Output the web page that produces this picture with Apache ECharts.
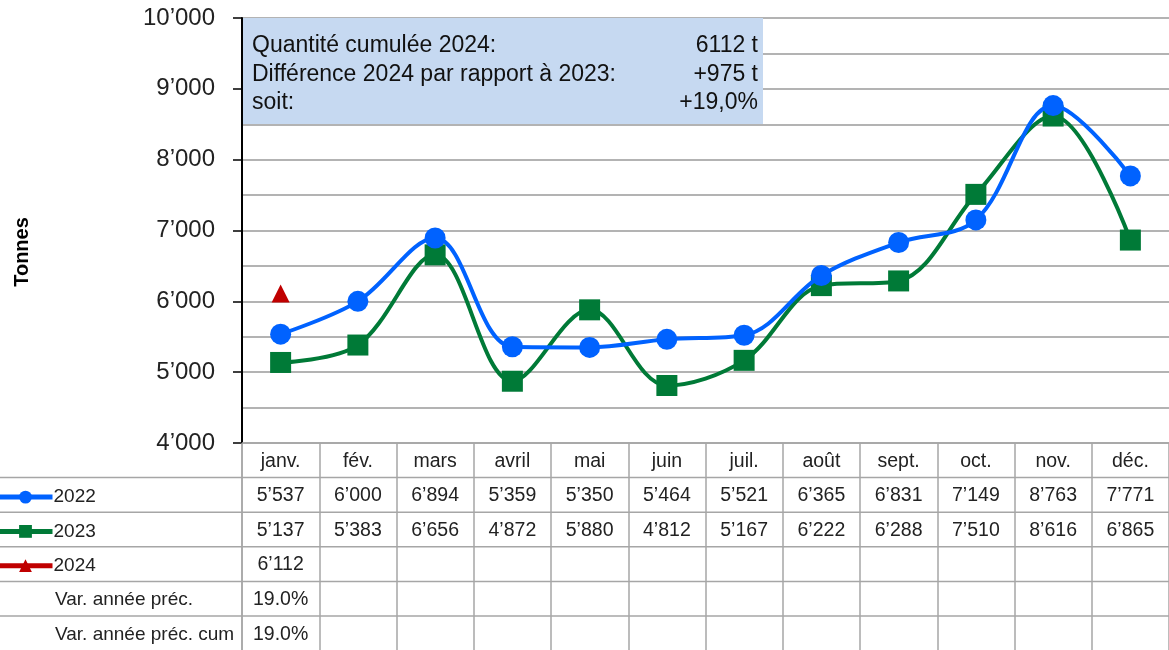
<!DOCTYPE html>
<html>
<head>
    <meta charset="UTF-8">
    <title>Tonnes par mois</title>
    <script src="https://cdn.jsdelivr.net/npm/echarts@6/dist/echarts.min.js"></script>
    <style>
        html, body { margin: 0; padding: 0; background: #fff; }
        #main { width: 1169px; height: 650px; }
    </style>
</head>
<body>
<div id="main"></div>
<script type="text/javascript">
    // donnees
    var mois = ['janv.', 'fév.', 'mars', 'avril', 'mai', 'juin', 'juil.', 'août', 'sept.', 'oct.', 'nov.', 'déc.'];
    var val2022 = [5537, 6000, 6894, 5359, 5350, 5464, 5521, 6365, 6831, 7149, 8763, 7771];
    var val2023 = [5137, 5383, 6656, 4872, 5880, 4812, 5167, 6222, 6288, 7510, 8616, 6865];
    var val2024 = [6112, null, null, null, null, null, null, null, null, null, null, null];
    var varAnnee = ['19.0%', '', '', '', '', '', '', '', '', '', '', ''];
    var varCum = ['19.0%', '', '', '', '', '', '', '', '', '', '', ''];
    var infoLabels = ['Quantité cumulée 2024:', 'Différence 2024 par rapport à 2023:', 'soit:'];
    var infoValues = ['6112 t', '+975 t', '+19,0%'];

    var FONT = '"Liberation Sans", Arial, sans-serif';
    var GRID_LEFT = 242, GRID_TOP = 18, GRID_BOTTOM = 207;
    var ROW_H = 34.6;

    function fmt(v) {
        if (v == null) return '';
        var s = String(v);
        return s.length > 3 ? s.slice(0, s.length - 3) + '\u2019' + s.slice(-3) : s;
    }

    // label multi-ligne de l'axe x = colonne du tableau
    var colLabels = mois.map(function (m, i) {
        return [m, fmt(val2022[i]), fmt(val2023[i]), fmt(val2024[i]), varAnnee[i], varCum[i]].join('\n');
    });

    var chart = echarts.init(document.getElementById('main'));

    var graphics = [];
    // lignes horizontales du tableau
    for (var r = 1; r <= 5; r++) {
        graphics.push({
            type: 'line', silent: true,
            shape: { x1: 0, y1: 443 + r * ROW_H, x2: 1169, y2: 443 + r * ROW_H },
            style: { stroke: '#a6a6a6', lineWidth: 1.5 }
        });
    }
    graphics.push({
        type: 'line', silent: true,
        shape: { x1: GRID_LEFT, y1: 443, x2: GRID_LEFT, y2: 650 },
        style: { stroke: '#a6a6a6', lineWidth: 1.5 }
    });
    graphics.push({
        type: 'text', x: 55, y: 443 + 4.5 * ROW_H + 1,
        style: { text: 'Var. année préc.', font: '19px ' + FONT, fill: '#222', verticalAlign: 'middle' }
    });
    graphics.push({
        type: 'text', x: 55, y: 443 + 5.5 * ROW_H + 1,
        style: { text: 'Var. année préc. cum', font: '19px ' + FONT, fill: '#222', verticalAlign: 'middle' }
    });
    // titre axe y
    graphics.push({
        type: 'text', x: 22, y: 252, rotation: Math.PI / 2,
        style: { text: 'Tonnes', font: 'bold 20px ' + FONT, fill: '#000', align: 'center', verticalAlign: 'middle' }
    });
    // encadre bleu
    graphics.push({
        type: 'rect', silent: true, z: 5,
        shape: { x: 243, y: 18, width: 520, height: 106 },
        style: { fill: '#c6d9f1' }
    });
    for (var k = 0; k < infoLabels.length; k++) {
        graphics.push({
            type: 'text', z: 6, x: 252, y: 46 + k * 28.5,
            style: { text: infoLabels[k], font: '23px ' + FONT, fill: '#111', verticalAlign: 'middle' }
        });
        graphics.push({
            type: 'text', z: 6, x: 758, y: 46 + k * 28.5,
            style: { text: infoValues[k], font: '23px ' + FONT, fill: '#111', align: 'right', verticalAlign: 'middle' }
        });
    }

    var option = {
        animation: false,
        backgroundColor: '#fff',
        textStyle: { fontFamily: FONT },
        grid: {
            left: GRID_LEFT, right: 0, top: GRID_TOP, bottom: GRID_BOTTOM,
            containLabel: false, outerBoundsMode: 'none'
        },
        legend: {
            orient: 'vertical',
            left: -4,
            top: 443 + ROW_H + 10,
            padding: 0,
            itemWidth: 54,
            itemHeight: 16,
            itemGap: 15.3,
            lineStyle: { width: 5 },
            textStyle: { fontSize: 19, color: '#222', fontFamily: FONT, padding: [0, 0, 0, -4] },
            data: ['2022', '2023', '2024']
        },
        xAxis: {
            type: 'category',
            data: colLabels,
            boundaryGap: true,
            axisLine: { show: true, lineStyle: { color: '#a6a6a6', width: 1.5 } },
            axisTick: { show: true, length: 207, lineStyle: { color: '#a6a6a6', width: 1.5 } },
            axisLabel: {
                interval: 0,
                margin: 1,
                lineHeight: ROW_H,
                fontSize: 19.5,
                color: '#222',
                fontFamily: FONT,
                verticalAlign: 'top'
            },
            splitLine: { show: false }
        },
        yAxis: {
            type: 'value',
            min: 4000,
            max: 10000,
            interval: 1000,
            axisLine: { show: true, lineStyle: { color: '#000', width: 2 } },
            axisTick: { show: true, length: 9, lineStyle: { color: '#000', width: 1.5 } },
            axisLabel: {
                fontSize: 24,
                color: '#222',
                margin: 27,
                fontFamily: FONT,
                formatter: function (v) { return fmt(v); }
            },
            splitLine: { show: true, lineStyle: { color: '#b3b3b3', width: 2 } },
            minorTick: { show: false, splitNumber: 2 },
            minorSplitLine: { show: true, lineStyle: { color: '#b3b3b3', width: 2 } }
        },
        series: [
            {
                name: '2022', type: 'line', data: val2022, smooth: 0.35, z: 3,
                symbol: 'circle', symbolSize: 21,
                lineStyle: { color: '#0062ff', width: 4 },
                itemStyle: { color: '#0062ff' }
            },
            {
                name: '2023', type: 'line', data: val2023, smooth: 0.35, z: 2,
                symbol: 'rect', symbolSize: 21,
                lineStyle: { color: '#007a37', width: 4 },
                itemStyle: { color: '#007a37' }
            },
            {
                name: '2024', type: 'line', data: val2024, z: 4,
                symbol: 'triangle', symbolSize: 18,
                lineStyle: { color: '#c00000', width: 4 },
                itemStyle: { color: '#c00000' }
            }
        ],
        graphic: graphics
    };

    chart.setOption(option);
</script>
</body>
</html>
